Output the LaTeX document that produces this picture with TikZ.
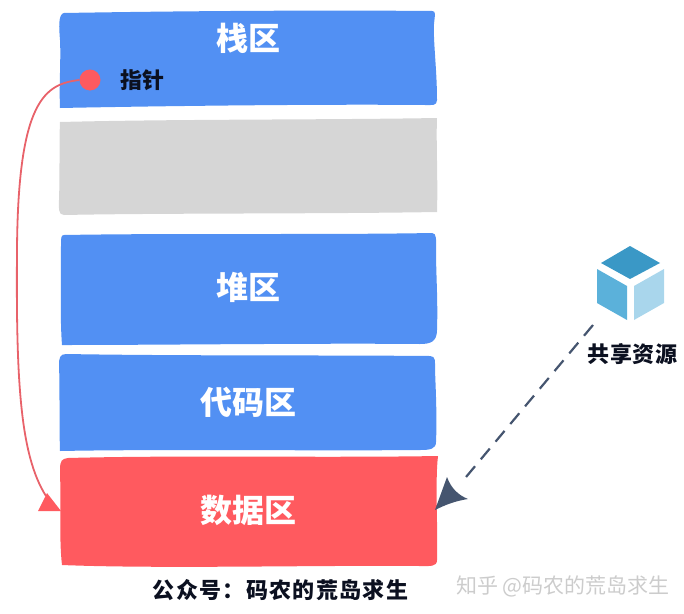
\documentclass[tikz,border=0pt]{standalone}
\usepackage{fontspec}
\newfontfamily\cjk{Noto Sans CJK SC}
\usetikzlibrary{arrows.meta,calc}
\definecolor{blk}{HTML}{5290F3}
\definecolor{gry}{HTML}{D6D6D6}
\definecolor{rd}{HTML}{FF5A5F}
\definecolor{rdline}{HTML}{E8626A}
\definecolor{ink}{HTML}{0B1020}
\definecolor{slate}{HTML}{45556F}
\definecolor{cubeT}{HTML}{3A98C6}
\definecolor{cubeL}{HTML}{5BB1DA}
\definecolor{cubeR}{HTML}{A9D6EC}
\tikzset{
  region/.style={inner sep=0pt,outer sep=0pt,text=white,font=\cjk\bfseries\fontsize{32}{32}\selectfont},
  note/.style={inner sep=0pt,text=ink,font=\cjk\bfseries\fontsize{22}{24}\selectfont},
  wmark/.style={inner sep=0pt,text=black!20,font=\cjk\fontsize{21}{24}\selectfont}
}
\begin{document}
\begin{tikzpicture}[x=1pt,y=-1pt]
\useasboundingbox (0,0) rectangle (684,613);
% hand-drawn region shapes
\fill[blk] (64,13) .. controls (180,11) and (320,10) .. (432,11) .. controls (436,11) and (435,14) .. (434,24) .. controls (433,40) and (437,70) .. (437,100) .. controls (437,106) and (432,105) .. (425,105) .. controls (320,104) and (160,106) .. (60,108) .. controls (59,85) and (61,60) .. (60,40) .. controls (59,28) and (58,14) .. (64,13) -- cycle;
\fill[gry] (60,122) .. controls (180,119) and (320,120) .. (437,118) .. controls (436,140) and (438,180) .. (437,212) .. controls (320,214) and (160,213) .. (64,215) .. controls (58,215) and (59,208) .. (59,200) .. controls (60,170) and (59,145) .. (60,122) -- cycle;
\fill[blk] (64,235) .. controls (180,233) and (320,235) .. (432,233) .. controls (437,233) and (436,240) .. (436,250) .. controls (436,275) and (438,300) .. (437,330) .. controls (437,342) and (430,344) .. (420,344) .. controls (320,343) and (160,345) .. (62,345) .. controls (60,320) and (61,280) .. (61,245) .. controls (61,238) and (61,235) .. (64,235) -- cycle;
\fill[blk] (66,354) .. controls (180,356) and (320,355) .. (430,356) .. controls (436,356) and (435,362) .. (435,370) .. controls (436,395) and (437,420) .. (436,442) .. controls (436,449) and (430,450) .. (420,450) .. controls (320,451) and (160,449) .. (60,451) .. controls (59,420) and (60,390) .. (59,365) .. controls (59,358) and (60,354) .. (66,354) -- cycle;
\fill[rd] (68,458) .. controls (180,455) and (320,458) .. (438,456) .. controls (435,480) and (438,530) .. (437,560) .. controls (437,567) and (430,566) .. (420,566) .. controls (320,565) and (160,569) .. (62,565) .. controls (59,540) and (61,500) .. (60,470) .. controls (60,460) and (62,459) .. (68,458) -- cycle;
% labels
\node[region] (stack) at (248,38) {栈区};
\node[region] (heap) at (248,287) {堆区};
\node[region] (code) at (248,402) {代码区};
\node[region] (data) at (248,510) {数据区};
\node[note] (ptrlabel) at (142.5,80) {指针};
\node[note] (share) at (632.5,354) {\addfontfeatures{LetterSpace=4}共享资源};
\node[note] (pub) at (280.5,590) {\addfontfeatures{LetterSpace=6}公众号：码农的荒岛求生};
\node[wmark] (zhihu) at (563,586) {知乎 @码农的荒岛求生};
% pointer
\node[circle,fill=rd,minimum size=21pt,inner sep=0pt] (ptr) at (90,80) {};
\coordinate (ptrtip) at (61,511);
\draw[rdline,line width=1.8pt] (ptr.west) .. controls (45,84) and (18,100) .. (17,250) .. controls (16,380) and (20,455) .. (46,496);
\fill[rd] (ptrtip) -- (38,511) -- (47,493) -- cycle;
% cube
\fill[cubeT] (630,246) -- (660,263) -- (630,279) -- (601,263) -- cycle;
\fill[cubeL] (597,269) -- (627,286) -- (627,320) -- (597,303) -- cycle;
\fill[cubeR] (664,269) -- (634,286) -- (634,320) -- (664,303) -- cycle;
\coordinate (cube) at (593,325);
\coordinate (datar) at (435,510);
% dashed connector
\draw[slate,line width=2.2pt,dash pattern=on 14pt off 9pt] (cube) -- (461,483);
\fill[slate] (datar) -- (447,477) .. controls (451,488) and (458,495) .. (468,499) .. controls (455,501) and (445,505) .. (datar) -- cycle;
\end{tikzpicture}
\end{document}
